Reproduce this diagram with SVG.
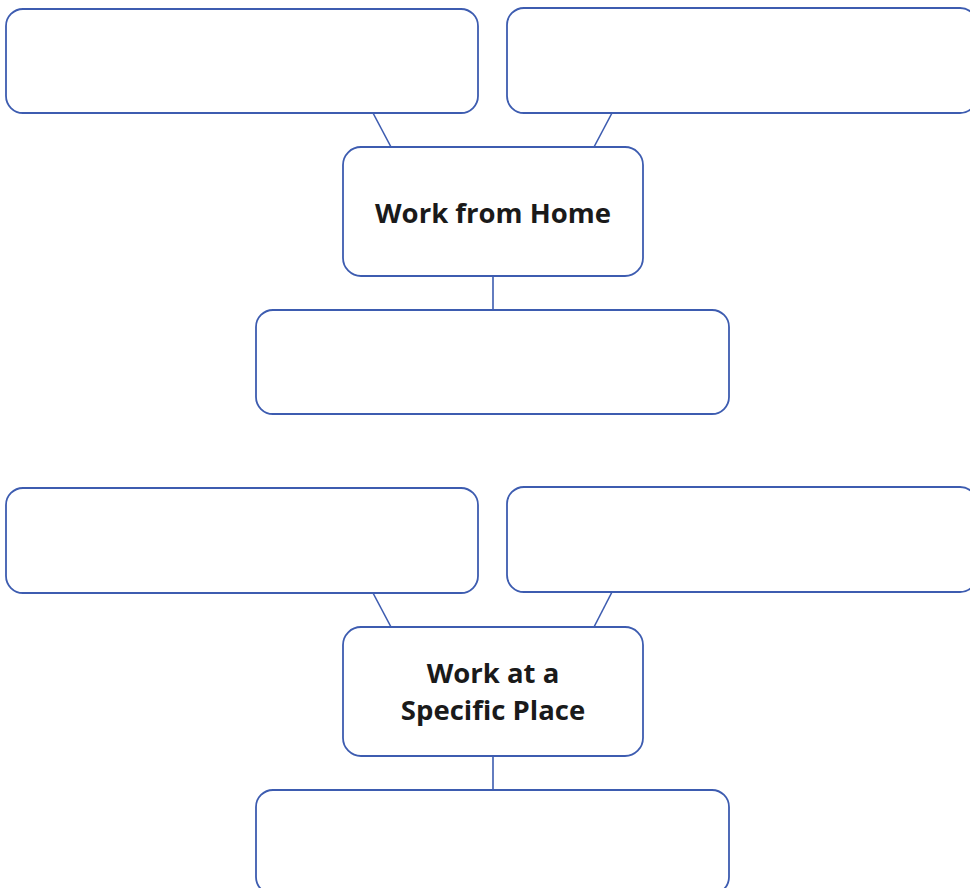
<svg xmlns="http://www.w3.org/2000/svg" width="970" height="888" viewBox="0 0 970 888">
  <style>
    .box { fill: #ffffff; stroke: #3d5cb0; stroke-width: 1.8; }
    .link { stroke: #3d5cb0; stroke-width: 1.6; fill: none; }
    .label { font-family: "Open Sans", "Liberation Sans", sans-serif; font-weight: 700; font-size: 27.5px; fill: #1a1a1a; text-anchor: middle; }
  </style>
  <rect x="0" y="0" width="970" height="888" fill="#ffffff"/>

  <!-- connectors -->
  <g id="connectors">
    <line class="link" x1="373" y1="113" x2="391" y2="147"/>
    <line class="link" x1="612" y1="113" x2="594" y2="147"/>
    <line class="link" x1="493" y1="276" x2="493" y2="310"/>
    <line class="link" x1="373" y1="593" x2="391" y2="627"/>
    <line class="link" x1="612" y1="592" x2="594" y2="627"/>
    <line class="link" x1="493" y1="756" x2="493" y2="790"/>
  </g>

  <!-- work from home cluster -->
  <g id="home-top-left"><rect class="box" x="6" y="9" width="472" height="104" rx="17"/></g>
  <g id="home-top-right"><rect class="box" x="507" y="8" width="470" height="105" rx="17"/></g>
  <g id="home-center">
    <rect class="box" x="343" y="147" width="300" height="129" rx="18"/>
    <text class="label" x="493" y="223">Work from Home</text>
  </g>
  <g id="home-bottom"><rect class="box" x="256" y="310" width="473" height="104" rx="17"/></g>

  <!-- work at a specific place cluster -->
  <g id="place-top-left"><rect class="box" x="6" y="488" width="472" height="105" rx="17"/></g>
  <g id="place-top-right"><rect class="box" x="507" y="487" width="470" height="105" rx="17"/></g>
  <g id="place-center">
    <rect class="box" x="343" y="627" width="300" height="129" rx="18"/>
    <text class="label" x="493" y="683">Work at a</text>
    <text class="label" x="493" y="720">Specific Place</text>
  </g>
  <g id="place-bottom"><rect class="box" x="256" y="790" width="473" height="104" rx="17"/></g>
</svg>
